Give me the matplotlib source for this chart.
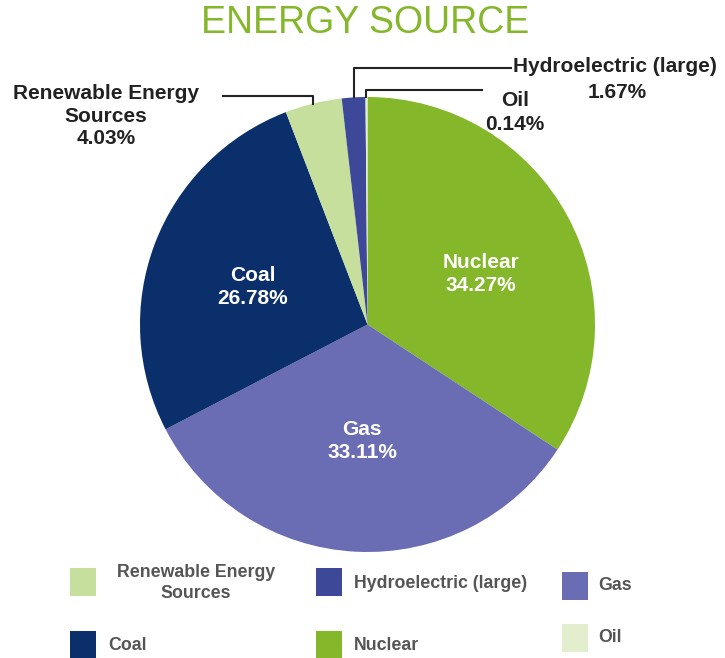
import numpy as np
import matplotlib.pyplot as plt
from matplotlib.patches import Rectangle

# Energy source shares (%), clockwise from 12 o'clock
sources = ['Nuclear', 'Gas', 'Coal', 'Renewable Energy\nSources', 'Hydroelectric (large)', 'Oil']
shares = [34.27, 33.11, 26.78, 4.03, 1.67, 0.14]
colors = ['#84b82a', '#6a6db3', '#0b2f6b', '#c6df9c', '#3d4899', '#e2eecd']

plt.rcParams['font.family'] = ['Liberation Sans', 'DejaVu Sans']

fig = plt.figure(figsize=(7.25, 6.58), dpi=100)
ax = fig.add_axes([0, 0, 1, 1])

cx, cy, r = 367.5, 324.5, 227.5
# y axis is flipped below, so counterclock=True draws clockwise on screen
wedges, _ = ax.pie(shares, colors=colors, startangle=-90, counterclock=True,
                   center=(cx, cy), radius=r, wedgeprops=dict(linewidth=0),
                   frame=True)
ax.set_xlim(0, 725)
ax.set_ylim(658, 0)  # pixel-like coords, y down
ax.set_aspect('equal')
ax.axis('off')

# screen angle of each wedge middle, measured clockwise from top
cum = np.cumsum([0] + shares)
mids = (cum[:-1] + cum[1:]) / 2 / 100 * 2 * np.pi


def edge_point(a, rr=r):
    return cx + rr * np.sin(a), cy - rr * np.cos(a)


# labels inside the three big slices
inner_pos = [(481, 274), (362, 441), (253, 287)]
for i in range(3):
    x, y = inner_pos[i]
    ax.text(x, y, f'{sources[i]}\n{shares[i]:.2f}%', color='white', fontsize=15,
            fontweight='bold', ha='center', va='center', linespacing=1.25)

# leader lines for the small slices
lab = dict(fontsize=15, fontweight='bold', color='#222222', va='center')
# renewable
x0, y0 = edge_point(mids[3])
ax.plot([x0, x0, 223], [y0, 96, 96], color='#222222', lw=1.5)
ax.text(106, 116, f'Renewable Energy\nSources\n{shares[3]:.2f}%', ha='center',
        linespacing=1.25, **lab)
# hydro
x0, y0 = edge_point(mids[4])
ax.plot([x0, x0, 511], [y0, 68, 68], color='#222222', lw=1.5)
ax.text(513, 67, 'Hydroelectric (large)', ha='left', **lab)
ax.text(617, 92, f'{shares[4]:.2f}%', ha='center', **lab)
# oil
x0, y0 = edge_point(mids[5])
ax.plot([x0, x0, 482], [y0, 90, 90], color='#222222', lw=1.5)
ax.text(515, 100, 'Oil', ha='center', **lab)
ax.text(515, 124, f'{shares[5]:.2f}%', ha='center', **lab)

# title
ax.text(365, 23, 'ENERGY SOURCE', color='#84b82a', fontsize=27, ha='center', va='center')

# custom legend
legend_order = [3, 4, 1, 2, 0, 5]
sq_pos = [(70, 568), (316, 568), (562, 572), (70, 631), (316, 631), (562, 624)]
txt_pos = [(196, 583), (354, 583), (598, 586), (108, 645), (354, 645), (598, 638)]
for k, i in enumerate(legend_order):
    sx, sy = sq_pos[k]
    ax.add_patch(Rectangle((sx, sy), 26, 28, color=colors[i], lw=0))
    tx, ty = txt_pos[k]
    ha = 'center' if k == 0 else 'left'
    ax.text(tx, ty, sources[i], ha=ha, va='center', fontsize=12.8, fontweight='bold',
            color='#555555', linespacing=1.25)

fig.savefig('out.png', dpi=100)
